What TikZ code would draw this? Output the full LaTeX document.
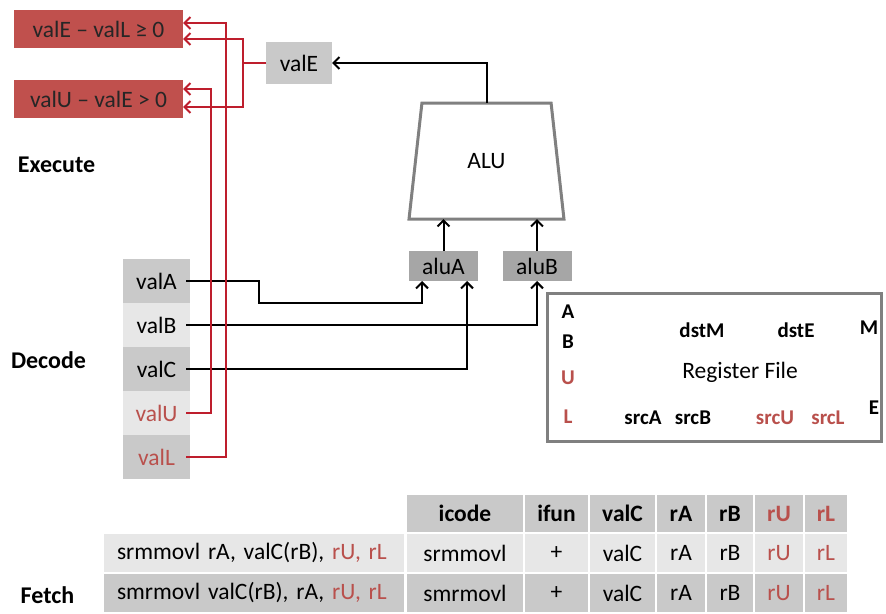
\documentclass[tikz,border=0pt]{standalone}
\usepackage{fontspec}
\setmainfont{Carlito}
\usetikzlibrary{arrows.meta,shapes.geometric}

\definecolor{boxred}{HTML}{C0504D}
\definecolor{wirered}{HTML}{BE1E2D}
\definecolor{txtred}{HTML}{B9504C}
\definecolor{greyA}{HTML}{C9C9C9}
\definecolor{greyB}{HTML}{E7E7E7}
\definecolor{aluGrey}{HTML}{A6A6A6}
\definecolor{frameGrey}{HTML}{808080}

\begin{document}
\begin{tikzpicture}[x=1pt,y=-1pt,
  every node/.style={inner sep=0pt, outer sep=0pt, font=\fontsize{23.5}{27}\selectfont},
  barb/.style={-{Straight Barb[length=6pt,width=12pt]}},
  wire/.style={draw=black, line width=2pt, barb},
  redwire/.style={draw=wirered, line width=2pt, barb},
  cmpbox/.style={fill=boxred, text=black!85, minimum width=169pt, minimum height=38pt},
  regbox/.style={minimum width=67pt, minimum height=44pt},
  alubox/.style={fill=aluGrey, minimum width=69pt, minimum height=30pt},
  stage/.style={font=\fontsize{24}{28}\selectfont\bfseries},
  rflabel/.style={font=\fontsize{21}{24}\selectfont\bfseries},
  cell/.style={draw=white, line width=2pt, minimum height=39.5pt},
  hcell/.style={cell, fill=greyA, font=\fontsize{23.5}{27}\selectfont\bfseries},
]
\fill[white] (0,0) rectangle (886,613);
\useasboundingbox (0,0) rectangle (886,613);

% stage names
\node[stage] (exec) at (56.5,165) {Execute};
\node[stage] (dec) at (48.5,360) {Decode};
\node[stage] (fet) at (47.5,595) {Fetch};

% condition boxes
\node[cmpbox] (cmpL) at (98.5,29) {valE – valL ≥ 0};
\node[cmpbox] (cmpU) at (98.5,99) {valU – valE > 0};

% execute stage
\node[fill=greyA, minimum width=66pt, minimum height=42pt] (valE) at (299,63) {valE};
\node[trapezium, trapezium left angle=76, trapezium right angle=76,
      trapezium stretches=true, minimum width=155pt, minimum height=116pt,
      draw=frameGrey, line width=3pt] (alu) at (486.5,161) {ALU};
\node[alubox] (aluA) at (443.5,266) {aluA};
\node[alubox] (aluB) at (537,266) {aluB};

% decode registers
\node[regbox, fill=greyA] (valA) at (156.5,281) {valA};
\node[regbox, fill=greyB] (valB) at (156.5,325) {valB};
\node[regbox, fill=greyA] (valC) at (156.5,369) {valC};
\node[regbox, fill=greyB, text=txtred] (valU) at (156.5,413) {valU};
\node[regbox, fill=greyA, text=txtred] (valL) at (156.5,457) {valL};

% register file
\node[draw=frameGrey, line width=3pt, minimum width=334pt, minimum height=148pt] (rf) at (714,367) {};
\node (rfname) at (740,372) {Register File};
\node[rflabel] (pA) at (568,312) {A};
\node[rflabel] (pB) at (568,342) {B};
\node[rflabel, text=txtred] (pU) at (568,378) {U};
\node[rflabel, text=txtred] (pL) at (568,417) {L};
\node[rflabel] (dstM) at (702,330) {dstM};
\node[rflabel] (dstE) at (796,330) {dstE};
\node[rflabel] (pM) at (869,328) {M};
\node[rflabel] (pE) at (874,408) {E};
\node[rflabel] (srcA) at (643,418) {srcA};
\node[rflabel] (srcB) at (693,418) {srcB};
\node[rflabel, text=txtred] (srcU) at (775,418) {srcU};
\node[rflabel, text=txtred] (srcL) at (828,418) {srcL};

% black data paths
\draw[wire] (alu.north) |- (valE.east);
\draw[wire] (aluA.north) -- (aluA.north |- alu.south);
\draw[wire] (aluB.north) -- (aluB.north |- alu.south);
\draw[wire] ([xshift=-4pt]valA.east) -| (259,303) -| ([xshift=-21.5pt]aluA.south);
\draw[wire] ([xshift=-4pt]valB.east) -| (aluB.south);
\draw[wire] ([xshift=-4pt]valC.east) -| ([xshift=23.5pt]aluA.south);

% red condition paths
\draw[redwire] (valE.west) -| (243,39) -- (cmpL.east |- 0,39);
\draw[redwire] (valE.west) -| (243,107) -- (cmpU.east |- 0,107);
\draw[redwire] ([xshift=-4pt]valL.east) -| (226,23) -- (cmpL.east |- 0,23);
\draw[redwire] ([xshift=-4pt]valU.east) -| (211,89) -- (cmpU.east |- 0,89);

% fetch table
\foreach \l/\r/\t [count=\i] in {406/524/icode, 524/589/ifun, 589/656/valC,
    656/706/rA, 706/754/rB, 754/804/{\color{txtred}rU}, 804/848/{\color{txtred}rL}}
  \node[hcell, minimum width={(\r-\l)*1pt}] (h\i) at ({(\l+\r)/2},513.5) {\t};

\node[cell, fill=greyB, minimum height=40pt, text width=274pt, inner xsep=14pt, align=left]
  (instA) at (254,553) {srmmovl rA, valC(rB), \textcolor{txtred}{rU, rL}};
\node[cell, fill=greyA, minimum height=40pt, text width=274pt, inner xsep=14pt, align=left]
  (instB) at (254,593) {smrmovl valC(rB), rA, \textcolor{txtred}{rU, rL}};

\foreach \l/\r/\t [count=\i] in {406/524/srmmovl, 524/589/+, 589/656/valC,
    656/706/rA, 706/754/rB, 754/804/{\color{txtred}rU}, 804/848/{\color{txtred}rL}}
  \node[cell, fill=greyB, minimum height=40pt, minimum width={(\r-\l)*1pt}] (a\i) at ({(\l+\r)/2},553) {\t};

\foreach \l/\r/\t [count=\i] in {406/524/smrmovl, 524/589/+, 589/656/valC,
    656/706/rA, 706/754/rB, 754/804/{\color{txtred}rU}, 804/848/{\color{txtred}rL}}
  \node[cell, fill=greyA, minimum height=40pt, minimum width={(\r-\l)*1pt}] (b\i) at ({(\l+\r)/2},593) {\t};
\end{tikzpicture}
\end{document}
